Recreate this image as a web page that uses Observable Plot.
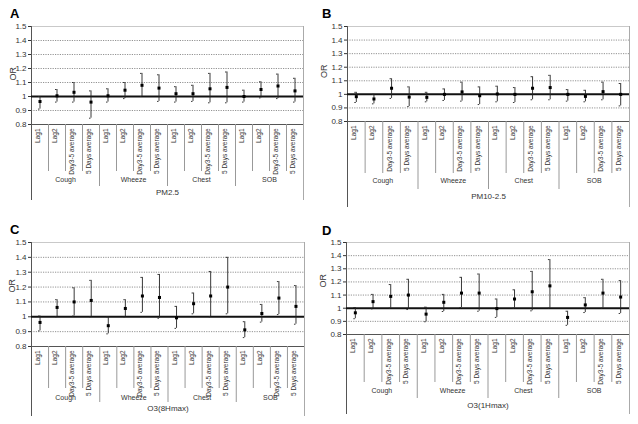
<!DOCTYPE html>
<html><head><meta charset="utf-8">
<script src="https://cdn.jsdelivr.net/npm/d3@7"></script>
<script src="https://cdn.jsdelivr.net/npm/@observablehq/plot@0.6"></script>
<style>
body{margin:0;background:#fff;font-family:"Liberation Sans",Arial,sans-serif}
#grid{display:grid;grid-template-columns:319px 319px;grid-template-rows:212px 212px;width:638px;height:424px}
.panel{position:relative;width:319px;height:212px;overflow:hidden}
.letter{position:absolute;font:bold 13px "Liberation Sans",Arial,sans-serif;color:#000;line-height:1}
svg{display:block}
</style></head><body><div id="grid"></div>
<script>
// ---- data ----
const lags = ["Lag1", "Lag2", "Day3-5 average", "5 Days average"];
const symptoms = ["Cough", "Wheeze", "Chest", "SOB"];
const pollutants = ["PM2.5", "PM10-2.5", "O3(8Hmax)", "O3(1Hmax)"];
const panelLetters = ["A", "B", "C", "D"];
const yTicks = [0.8, 0.9, 1, 1.1, 1.2, 1.3, 1.4, 1.5];
const yLabel = "OR";

const orA = [0.964, 1.005, 1.03, 0.96, 1.005, 1.045, 1.08, 1.06, 1.02, 1.02, 1.055, 1.065, 1.0, 1.05, 1.075, 1.04];
const loA = [0.91, 0.96, 0.96, 0.845, 0.96, 0.985, 1.0, 0.965, 0.96, 0.965, 0.955, 0.955, 0.96, 0.99, 0.985, 0.96];
const hiA = [1.0, 1.05, 1.10, 1.04, 1.055, 1.10, 1.165, 1.155, 1.07, 1.08, 1.165, 1.175, 1.045, 1.105, 1.16, 1.13];

const orB = [0.983, 0.966, 1.045, 0.98, 0.978, 1.0, 1.018, 0.99, 1.003, 1.0, 1.045, 1.05, 1.0, 0.985, 1.02, 1.0];
const loB = [0.94, 0.93, 0.97, 0.91, 0.945, 0.955, 0.95, 0.925, 0.945, 0.94, 0.96, 0.96, 0.95, 0.945, 0.96, 0.915];
const hiB = [1.015, 1.0, 1.115, 1.055, 1.015, 1.04, 1.09, 1.055, 1.06, 1.05, 1.13, 1.14, 1.035, 1.03, 1.09, 1.08];

const orC = [0.962, 1.063, 1.1, 1.11, 0.94, 1.056, 1.14, 1.13, 0.993, 1.088, 1.14, 1.2, 0.912, 1.022, 1.126, 1.07];
const loC = [0.905, 1.0, 1.005, 1.0, 0.885, 1.0, 1.03, 0.99, 0.922, 1.02, 1.0, 1.02, 0.86, 0.964, 1.015, 0.95];
const hiC = [1.005, 1.115, 1.195, 1.245, 1.0, 1.115, 1.265, 1.285, 1.07, 1.16, 1.305, 1.4, 0.967, 1.083, 1.237, 1.21];

const orD = [0.965, 1.05, 1.09, 1.1, 0.955, 1.045, 1.115, 1.115, 0.997, 1.07, 1.125, 1.17, 0.93, 1.025, 1.115, 1.085];
const loD = [0.92, 0.995, 1.0, 0.99, 0.897, 0.975, 1.005, 0.977, 0.93, 1.0, 0.98, 1.0, 0.87, 0.967, 1.0, 0.96];
const hiD = [1.005, 1.105, 1.18, 1.22, 1.008, 1.105, 1.235, 1.26, 1.07, 1.14, 1.28, 1.37, 0.977, 1.08, 1.22, 1.21];

const seriesOR = [orA, orB, orC, orD];
const seriesLo = [loA, loB, loC, loD];
const seriesHi = [hiA, hiB, hiC, hiD];

// ---- layout (pixels) ----
const layout = [
  {ml: 31, mr: 16, mt: 26, mb: 88, sub: 47, grp: 62, outer: 76, grpDy: 57, mainDy: 70, letterTop: 7, orX: 13, orDy: 5},
  {ml: 28, mr: 9, mt: 26, mb: 91, sub: 52, grp: 68, outer: 86, grpDy: 61, mainDy: 77, letterTop: 7, orX: 5, orDy: 4},
  {ml: 31, mr: 15, mt: 30, mb: 78, sub: 42, grp: 56, outer: 70, grpDy: 53, mainDy: 64, letterTop: 11, orX: 12, orDy: -2},
  {ml: 27, mr: 9, mt: 30, mb: 90, sub: 48, grp: 64, outer: 80, grpDy: 58, mainDy: 73, letterTop: 12, orX: 4, orDy: -1}
];

const grid = document.getElementById("grid");

for (let p = 0; p < 4; p++) {
  const L = layout[p];
  const rows = [];
  symptoms.forEach((s, g) => lags.forEach((lag, l) => {
    const i = g * lags.length + l;
    rows.push({i, symptom: s, lag, or: seriesOR[p][i], lo: seriesLo[p][i], hi: seriesHi[p][i]});
  }));
  const n = rows.length;
  const subSeps = d3.range(n - 1).filter(k => (k + 1) % lags.length !== 0).map(k => k + 0.5);
  const grpSeps = d3.range(1, symptoms.length).map(g => g * lags.length - 0.5);
  const grpCenters = symptoms.map((s, g) => ({s, x: g * lags.length + (lags.length - 1) / 2}));

  const chart = Plot.plot({
    width: 319, height: 212,
    marginLeft: L.ml, marginRight: L.mr, marginTop: L.mt, marginBottom: L.mb,
    style: {fontFamily: "'Liberation Sans', Arial, sans-serif", fontSize: "8px", color: "#333", background: "#fff"},
    x: {domain: [-0.5, n - 0.5], axis: null},
    y: {domain: [0.8, 1.5], ticks: yTicks, tickFormat: d => String(d), tickSize: 3, tickPadding: 2, label: null},
    marks: [
      Plot.ruleY(yTicks.filter(t => t !== 0.8 && t !== 1 && t !== 1.5), {stroke: "#777", strokeDasharray: "1.2,1.2", strokeWidth: 0.8}),
      Plot.ruleY([1.5], {stroke: "#bbb", strokeWidth: 0.8}),
      Plot.ruleY([0.8], {stroke: "#555", strokeWidth: 1}),
      Plot.ruleX([-0.5], {y1: 1.5, y2: 0.8, insetBottom: -L.outer, stroke: "#555"}),
      Plot.ruleX([n - 0.5], {y1: 1.5, y2: 0.8, insetBottom: -L.outer, stroke: "#aaa"}),
      Plot.ruleX(grpSeps, {y1: 0.8, y2: 0.8, insetBottom: -L.grp, stroke: "#999"}),
      Plot.ruleX(subSeps, {y1: 0.8, y2: 0.8, insetBottom: -L.sub, stroke: "#999"}),
      Plot.ruleY([1], {stroke: "#111", strokeWidth: 2}),
      Plot.ruleX(rows, {x: "i", y1: "lo", y2: "hi", stroke: "#222", strokeWidth: 0.9}),
      Plot.ruleY(rows, {y: "hi", x1: "i", x2: "i", insetLeft: -1.5, insetRight: 0, stroke: "#222", strokeWidth: 0.9}),
      Plot.ruleY(rows, {y: "lo", x1: "i", x2: "i", insetLeft: -1.5, insetRight: 0, stroke: "#222", strokeWidth: 0.9}),
      Plot.dot(rows, {x: "i", y: "or", symbol: "square", r: 1.7, fill: "#000", stroke: "none"}),
      Plot.text(rows, {x: "i", frameAnchor: "bottom", text: "lag", rotate: -90, textAnchor: "end", dy: 4, fontSize: 6.5, fill: "#333"}),
      Plot.text(grpCenters, {x: "x", frameAnchor: "bottom", text: "s", dy: L.grpDy, fontSize: 7, fill: "#333"}),
      Plot.text([pollutants[p]], {frameAnchor: "bottom", text: d => d, dy: L.mainDy, fontSize: 8, fill: "#333"}),
      Plot.text([yLabel], {frameAnchor: "left", text: d => d, rotate: -90, dx: -L.ml + L.orX, dy: L.orDy, fontSize: 9, fill: "#333"})
    ]
  });
  const div = document.createElement("div");
  div.className = "panel";
  const letter = document.createElement("div");
  letter.className = "letter";
  letter.textContent = panelLetters[p];
  letter.style.left = (p % 2 === 0 ? 10 : 3) + "px";
  letter.style.top = L.letterTop + "px";
  div.appendChild(chart);
  div.appendChild(letter);
  grid.appendChild(div);
}
</script>
</body></html>
